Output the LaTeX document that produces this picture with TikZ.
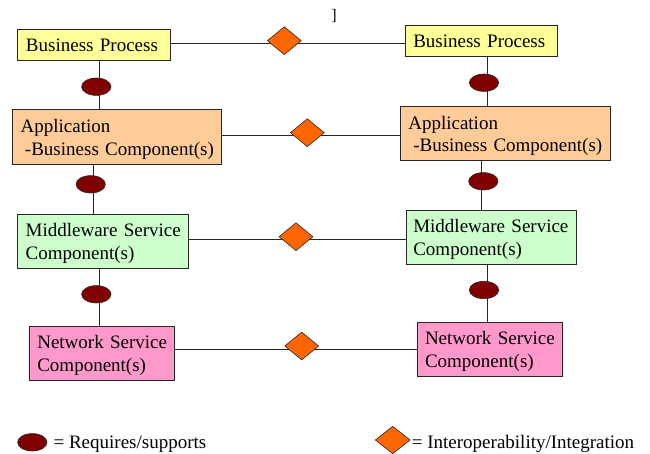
\documentclass[tikz,border=0pt]{standalone}
\usepackage{fontspec}
\setmainfont{Liberation Serif}
\usetikzlibrary{shapes.geometric}
\definecolor{bpfill}{HTML}{FFFF99}
\definecolor{appfill}{HTML}{FFCC99}
\definecolor{mwfill}{HTML}{CCFFCC}
\definecolor{nsfill}{HTML}{FF99CC}
\definecolor{reqc}{HTML}{800000}
\definecolor{iopc}{HTML}{FF6600}
\definecolor{edge}{HTML}{262626}
\begin{document}
\begin{tikzpicture}[x=1bp,y=-1bp,
  every node/.style={font=\fontsize{19bp}{22.7bp}\selectfont},
  boxbase/.style={draw=edge, line width=1bp, rectangle, inner ysep=0pt, align=left},
  oneline/.style={text height=12.9bp, text depth=0bp},
  twoline/.style={text height=17.75bp, text depth=26.75bp},
  req/.style={ellipse, draw=edge, line width=0.6bp, fill=reqc, minimum width=29.4bp, minimum height=17.4bp, inner sep=0pt},
  iop/.style={diamond, draw=edge, line width=0.6bp, fill=iopc, minimum width=34bp, minimum height=28bp, inner sep=0pt},
  conn/.style={draw=edge, line width=0.8bp},
  legtext/.style={anchor=base west, inner sep=0pt}]
\useasboundingbox (0,0) rectangle (650,454);

% boxes
\node[boxbase, oneline, fill=bpfill, minimum width=152bp, minimum height=30.7bp, inner xsep=8bp, text width=136bp] (bp1) at (94,45.35) {\mbox{Business Process}};
\node[boxbase, oneline, fill=bpfill, minimum width=152bp, minimum height=30.7bp, inner xsep=7.6bp, text width=136.8bp] (bp2) at (481.7,41.35) {\mbox{Business Process}};
\node[boxbase, twoline, fill=appfill, minimum width=209.4bp, minimum height=54.3bp, inner xsep=8.4bp, text width=192.6bp] (app1) at (117,137.15) {\mbox{Application}\\\mbox{\hspace{4.3bp}-Business Component(s)}};
\node[boxbase, twoline, fill=appfill, minimum width=209.7bp, minimum height=54bp, inner xsep=8bp, text width=193.7bp] (app2) at (505.15,133.7) {\mbox{Application}\\\mbox{\hspace{5bp}-Business Component(s)}};
\node[boxbase, twoline, fill=mwfill, minimum width=170.6bp, minimum height=54bp, inner xsep=8bp, text width=154.6bp] (mw1) at (103,241.3) {\mbox{Middleware Service}\\\mbox{Component(s)}};
\node[boxbase, twoline, fill=mwfill, minimum width=170.7bp, minimum height=53.6bp, inner xsep=7.3bp, text width=156.1bp] (mw2) at (491.35,237.5) {\mbox{Middleware Service}\\\mbox{Component(s)}};
\node[boxbase, twoline, fill=nsfill, minimum width=145.4bp, minimum height=54bp, inner xsep=8bp, text width=129.4bp] (ns1) at (102,353) {\mbox{Network Service}\\\mbox{Component(s)}};
\node[boxbase, twoline, fill=nsfill, minimum width=145.4bp, minimum height=53.7bp, inner xsep=7.7bp, text width=130bp] (ns2) at (490,349.15) {\mbox{Network Service}\\\mbox{Component(s)}};

% guide coordinates for connector positions
\coordinate (h1) at (0,43.3);
\coordinate (h2) at (0,135.3);
\coordinate (h3) at (0,239.3);
\coordinate (h4) at (0,349);
\coordinate (v1) at (99.3,0);
\coordinate (v2) at (487.3,0);
\coordinate (v3) at (93.3,0);
\coordinate (v4) at (99.3,0);
\coordinate (v5) at (487.3,0);
\coordinate (v6) at (481.7,0);

% horizontal connectors
\draw[conn] (bp1.east |- h1) -- (bp2.west |- h1);
\draw[conn] (app1.east |- h2) -- (app2.west |- h2);
\draw[conn] (mw1.east |- h3) -- (mw2.west |- h3);
\draw[conn] (ns1.east |- h4) -- (ns2.west |- h4);

% vertical connectors
\draw[conn] (bp1.south -| v1) -- (app1.north -| v1);
\draw[conn] (app1.south -| v3) -- (mw1.north -| v3);
\draw[conn] (mw1.south -| v4) -- (ns1.north -| v4);
\draw[conn] (bp2.south -| v2) -- (app2.north -| v2);
\draw[conn] (app2.south -| v6) -- (mw2.north -| v6);
\draw[conn] (mw2.south -| v5) -- (ns2.north -| v5);

% requires/supports symbols
\node[req] (e1) at (96.3,86.7) {};
\node[req] (e3) at (90.7,184.3) {};
\node[req] (e4) at (96.3,294.3) {};
\node[req] (e2) at (484,82.7) {};
\node[req] (e6) at (483.3,181.3) {};
\node[req] (e5) at (484,290) {};

% interoperability symbols
\node[iop] (d1) at (284.3,40.7) {};
\node[iop] (d2) at (307.3,132.7) {};
\node[iop] (d3) at (296,236.7) {};
\node[iop] (d4) at (301.7,346) {};

% stray bracket
\node[anchor=base, inner sep=0pt, font=\fontsize{16bp}{19bp}\selectfont] (brk) at (334,20.6) {]};

% legend
\node[req] (lege) at (32.3,442.3) {};
\node[legtext] (legt1) at (53.4,448.3) {= Requires/supports};
\node[iop, minimum width=35bp, minimum height=27.5bp] (legd) at (392.7,440) {};
\node[legtext] (legt2) at (411.7,448.3) {= Interoperability/Integration};
\end{tikzpicture}
\end{document}
